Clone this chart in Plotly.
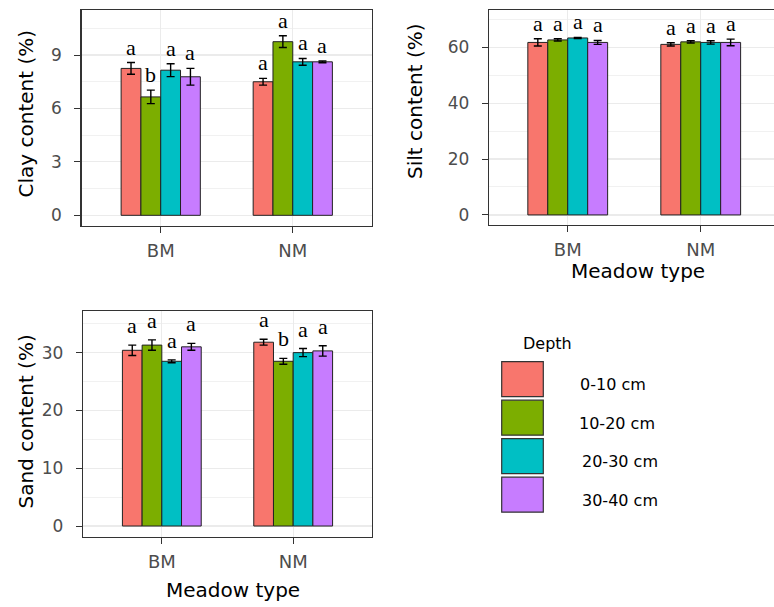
import plotly.graph_objects as go

# ---------------- data ----------------
meadows = ["BM", "NM"]
depths = ["0-10 cm", "10-20 cm", "20-30 cm", "30-40 cm"]
colors = ["#F8766D", "#7CAE00", "#00BFC4", "#C77CFF"]

# values per depth: [BM, NM]
clay_mean = [[8.25, 7.50], [6.65, 9.75], [8.15, 8.62], [7.78, 8.62]]
clay_se = [[0.33, 0.19], [0.38, 0.33], [0.36, 0.19], [0.47, 0.05]]
clay_letters = [["a", "a"], ["b", "a"], ["a", "a"], ["a", "a"]]

silt_mean = [[61.7, 61.0], [62.6, 61.9], [63.3, 61.7], [61.7, 61.7]]
silt_se = [[1.3, 0.6], [0.4, 0.4], [0.2, 0.6], [0.7, 1.2]]
silt_letters = [["a", "a"], ["a", "a"], ["a", "a"], ["a", "a"]]

sand_mean = [[30.4, 31.8], [31.3, 28.5], [28.5, 30.0], [31.0, 30.3]]
sand_se = [[0.9, 0.5], [0.9, 0.5], [0.25, 0.7], [0.6, 0.9]]
sand_letters = [["a", "a"], ["a", "b"], ["a", "a"], ["a", "a"]]

W, H = 774, 607
SANS = "DejaVu Sans"
SERIF = "Liberation Serif"
TICK_COL = "#4d4d4d"
GRID = "#EBEBEB"
BORDER = "#333333"

fig = go.Figure()

panels = [
    # name, means, ses, letters, xaxis id, yaxis id, letter yshift
    ("clay", clay_mean, clay_se, clay_letters, "x", "y", 1),
    ("silt", silt_mean, silt_se, silt_letters, "x2", "y2", 1),
    ("sand", sand_mean, sand_se, sand_letters, "x3", "y3", 5),
]

bargap = 0.4
group_w = 1 - bargap
bar_w = group_w / len(depths)

for name, means, ses, letters, xa, ya, ysh in panels:
    for j, d in enumerate(depths):
        fig.add_trace(go.Bar(
            x=meadows, y=means[j], name=d, xaxis=xa, yaxis=ya,
            marker=dict(color=colors[j], line=dict(color="#222222", width=1)),
            error_y=dict(type="data", array=ses[j], color="black",
                         thickness=1.4, width=4),
            showlegend=False, hoverinfo="skip",
        ))
        for i, m in enumerate(meadows):
            fig.add_annotation(
                x=i + (j - (len(depths) - 1) / 2) * bar_w,
                y=means[j][i] + ses[j][i],
                xref=xa, yref=ya, text=letters[j][i], showarrow=False,
                yanchor="bottom", yshift=ysh,
                font=dict(family=SERIF, size=22, color="black"),
            )


def px_x(p):
    return p / W


def px_y(p):
    return (H - p) / H


common_x = dict(type="category", showline=True, linecolor=BORDER, linewidth=1.2,
                ticks="outside", ticklen=6, tickcolor=BORDER, tickwidth=1,
                tickfont=dict(family=SANS, size=18, color=TICK_COL),
                showgrid=True, gridcolor=GRID, gridwidth=1.2,
                zeroline=False, fixedrange=True, ticklabelstandoff=2)
common_y = dict(showline=True, linecolor=BORDER, linewidth=1.2,
                ticks="outside", ticklen=6, tickcolor=BORDER, tickwidth=1,
                tickfont=dict(family=SANS, size=17, color=TICK_COL),
                showgrid=True, gridcolor=GRID, gridwidth=1.2,
                zeroline=False, fixedrange=True, ticklabelstandoff=9)

fig.update_layout(
    width=W, height=H, margin=dict(l=0, r=0, t=0, b=0),
    paper_bgcolor="white", plot_bgcolor="white",
    barmode="group", bargap=bargap, bargroupgap=0,
    showlegend=False,
    xaxis=dict(common_x, domain=[px_x(81.5), px_x(372)], range=[-0.6, 1.6],
               anchor="y", mirror=True),
    yaxis=dict(common_y, domain=[px_y(226), px_y(10)], range=[-0.6, 11.53],
               tickvals=[0, 3, 6, 9], anchor="x", mirror=True,
               minor=dict(tickvals=[1.5, 4.5, 7.5, 10.5], showgrid=True,
                          gridcolor=GRID, gridwidth=0.7, ticks="")),
    xaxis2=dict(common_x, domain=[px_x(489), 1.0], range=[-0.592, 1.551],
                anchor="y2", mirror=True),
    yaxis2=dict(common_y, domain=[px_y(225), px_y(10)], range=[-3.6, 73.3],
                tickvals=[0, 20, 40, 60], anchor="x2", mirror=False,
                minor=dict(tickvals=[10, 30, 50, 70], showgrid=True,
                           gridcolor=GRID, gridwidth=0.7, ticks="")),
    xaxis3=dict(common_x, domain=[px_x(83), px_x(372)], range=[-0.6, 1.6],
                anchor="y3", mirror=True),
    yaxis3=dict(common_y, domain=[px_y(537), px_y(311)], range=[-1.9, 37.2],
                tickvals=[0, 10, 20, 30], anchor="x3", mirror=True,
                minor=dict(tickvals=[5, 15, 25, 35], showgrid=True,
                           gridcolor=GRID, gridwidth=0.7, ticks="")),
)

# axis titles
title_font = dict(family=SANS, size=20, color="black")
for txt, x, y in [("Clay content (%)", 25, 113.5),
                  ("Silt content (%)", 415, 101),
                  ("Sand content (%)", 25, 421.5)]:
    fig.add_annotation(x=px_x(x), y=px_y(y), xref="paper", yref="paper",
                       text=txt, textangle=-90, showarrow=False,
                       xanchor="center", yanchor="middle", font=title_font)
for x, y in [(638, 271), (233, 590)]:
    fig.add_annotation(x=px_x(x), y=px_y(y), xref="paper", yref="paper",
                       text="Meadow type", showarrow=False,
                       xanchor="center", yanchor="middle", font=title_font)

# legend (drawn manually to mimic the large ggplot keys)
fig.add_annotation(x=px_x(521), y=px_y(343), xref="paper", yref="paper",
                   text="Depth", showarrow=False, xanchor="left",
                   yanchor="middle", font=dict(family=SANS, size=16, color="black"))
label_x = [578, 577, 580, 580]
for j, d in enumerate(depths):
    top = 361.7 + j * 38.5
    fig.add_shape(type="rect", xref="paper", yref="paper",
                  x0=px_x(501.7), x1=px_x(543.3), y0=px_y(top + 35), y1=px_y(top),
                  fillcolor=colors[j], line=dict(color="#333333", width=1.2))
    fig.add_annotation(x=px_x(label_x[j]), y=px_y(top + 23), xref="paper",
                       yref="paper", text=d, showarrow=False, xanchor="left",
                       yanchor="middle",
                       font=dict(family=SANS, size=16, color="black"))

fig.write_html("out.html",
               config={"displayModeBar": False, "staticPlot": True},
               post_script="document.body.style.margin='0';"
                           "document.body.style.overflow='hidden';")
